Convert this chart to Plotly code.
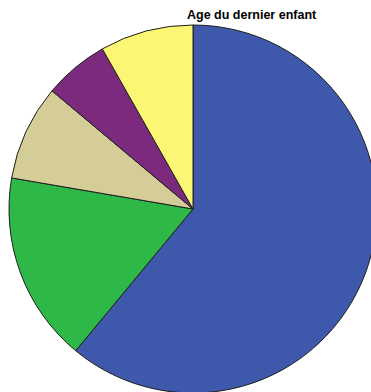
import plotly.graph_objects as go

# Share of respondents by age of the youngest child (percent)
categories = ["Moins de 6 ans", "6 à 11 ans", "12 à 15 ans", "16 à 18 ans", "Plus de 18 ans"]
shares = [61.0, 16.7, 8.4, 5.7, 8.2]
colors = ["#3e58ac", "#2eb848", "#d4cd98", "#7c2a7d", "#fbf775"]
title_text = "Age du dernier enfant"

W, H = 390, 400          # canvas slightly larger than the view so the disc runs off the edges
cx, cy, r = 193, 209, 184  # disc centre and radius in pixels

fig = go.Figure(
    go.Pie(
        labels=categories,
        values=shares,
        sort=False,
        direction="clockwise",
        rotation=0,
        textinfo="none",
        hoverinfo="label+percent",
        marker=dict(colors=colors, line=dict(color="#1e1e1e", width=1)),
        domain=dict(x=[(cx - r) / W, (cx + r) / W],
                    y=[1 - (cy + r) / H, 1 - (cy - r) / H]),
        showlegend=False,
    )
)

fig.add_annotation(
    text="<b>" + title_text + "</b>",
    x=252 / W, y=1 - 15 / H, xref="paper", yref="paper",
    xanchor="center", yanchor="middle", showarrow=False,
    font=dict(family="Liberation Sans, Arial, sans-serif", size=12.5, color="#000"),
)

fig.update_layout(
    width=W, height=H,
    margin=dict(l=0, r=0, t=0, b=0),
    paper_bgcolor="white", plot_bgcolor="white",
)

fig.write_html(
    "out.html",
    config={"displayModeBar": False},
    post_script="document.body.style.margin='0';document.body.style.overflow='hidden';",
)
